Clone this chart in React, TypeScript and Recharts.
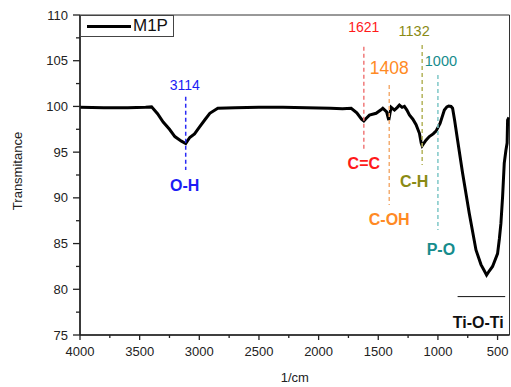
import { Legend, Line, LineChart, ReferenceArea, ReferenceDot, ReferenceLine, XAxis, YAxis } from 'recharts';

// FTIR spectrum of M1P (wavenumber in 1/cm, transmittance in %)
const wavenumbers = [
  4000, 3800, 3600, 3450, 3400, 3350, 3303, 3250, 3205, 3150, 3114, 3080, 3040, 2996, 2950, 2912, 2845,
  2700, 2500, 2300, 2100, 1900, 1800, 1727, 1680, 1640, 1621, 1600, 1574, 1518, 1480, 1462, 1430, 1412,
  1400, 1392, 1364, 1340, 1323, 1300, 1281, 1260, 1239, 1210, 1183, 1155, 1140, 1132, 1100, 1072, 1040,
  1016, 982, 946, 925, 910, 890, 877, 860, 835, 793, 737, 681, 639, 610, 592, 570, 542, 500, 485, 472,
  458, 444, 430, 420, 416, 405,
];
const transmittance = [
  99.9, 99.85, 99.85, 99.9, 99.95, 99.2, 98.3, 97.5, 96.7, 96.2, 95.95, 96.6, 97.0, 97.8, 98.6, 99.25, 99.8,
  99.85, 99.9, 99.9, 99.85, 99.8, 99.75, 99.8, 99.3, 98.6, 98.4, 98.7, 99.05, 99.25, 99.6, 99.8, 99.4, 98.5,
  99.4, 99.9, 99.6, 99.9, 100.15, 99.9, 100.0, 99.6, 99.06, 98.6, 98.0, 97.06, 96.0, 95.7, 96.3, 96.7, 97.0,
  97.3, 98.15, 99.6, 99.95, 100.05, 100.0, 99.8, 98.5, 96.3, 92.7, 88.3, 84.3, 82.7, 82.0, 81.55, 82.0, 82.5,
  83.9, 85.5, 87.2, 90.1, 93.8, 95.2, 96.0, 98.5, 98.8,
];
const spectrum = wavenumbers.map((w, i) => ({ w, t: transmittance[i] }));

const xTicks = [4000, 3750, 3500, 3250, 3000, 2750, 2500, 2250, 2000, 1750, 1500, 1250, 1000, 750, 500];
const yTicks = [75, 77.5, 80, 82.5, 85, 87.5, 90, 92.5, 95, 97.5, 100, 102.5, 105, 107.5, 110];

// assigned bands: position, group name, dashed marker span and label heights (in %T)
const bandPositions = [3114, 1621, 1408, 1132, 1000];
const bandNames = ['O-H', 'C=C', 'C-OH', 'C-H', 'P-O'];
const markerTop = [101.07, 106.53, 102.34, 106.72, 103.44];
const markerBottom = [93.05, 95.05, 89.22, 93.59, 86.48];
const numberLevel = [102.34, 108.72, 104.17, 108.25, 104.97];
const nameLevel = [91.3, 93.78, 87.66, 91.84, 84.3];

const tiBand = { label: 'Ti-O-Ti', from: 835, to: 436, level: 79.2, textAt: 662, textLevel: 76.4 };

const bandStyles = [
  { text: '#1c1cf5', dash: '#2a2af5', numSize: 14, dx: -1 },
  { text: '#ff1a1a', dash: '#f07a7a', numSize: 14, dx: 0 },
  { text: '#ff8a24', dash: '#f4ae72', numSize: 17.5, dx: 0 },
  { text: '#8a8a14', dash: '#b4b45c', numSize: 14.5, dx: -8 },
  { text: '#168c8c', dash: '#7fc8c8', numSize: 14.5, dx: 3 },
];

const W = 511;
const H = 387;
const LEFT = 80;
const TOP = 15;
const RIGHT = 1.5;
const BOTTOM = 335;
const FONT = '"Liberation Sans", Arial, sans-serif';

function XTick({ x, y, payload }: any) {
  const major = payload.value % 500 === 0;
  return (
    <g>
      <line x1={x} x2={x} y1={y} y2={y + (major ? 5 : 3)} stroke="#222" strokeWidth={1.3} />
      {major && (
        <text x={x} y={y + 21} textAnchor="middle" fontSize={13} fill="#222">
          {payload.value}
        </text>
      )}
    </g>
  );
}

function YTick({ x, y, payload }: any) {
  const major = payload.value % 5 === 0;
  return (
    <g>
      <line x1={x - (major ? 7 : 4)} x2={x} y1={y} y2={y} stroke="#222" strokeWidth={1.3} />
      {major && (
        <text x={x - 12} y={y} textAnchor="end" dominantBaseline="central" fontSize={13} fill="#222">
          {payload.value}
        </text>
      )}
    </g>
  );
}

// axis titles sit at fixed spots; props handed in by the axis are ignored
function XTitle() {
  const cx = (LEFT + W - RIGHT) / 2;
  return (
    <text x={cx} y={377} textAnchor="middle" dominantBaseline="central" fontSize={13} fill="#222">
      1/cm
    </text>
  );
}

function YTitle() {
  return (
    <text
      x={17}
      y={171}
      transform="rotate(-90 17 171)"
      textAnchor="middle"
      dominantBaseline="central"
      fontSize={13}
      fill="#222"
    >
      Transmitance
    </text>
  );
}

function LegendBox() {
  return (
    <div
      style={{
        width: 94,
        height: 22,
        boxSizing: 'border-box',
        border: '1px solid #444',
        background: '#fff',
        position: 'relative',
      }}
    >
      <svg width={50} height={20} style={{ position: 'absolute', left: 5, top: 0 }}>
        <line x1={1} x2={45} y1={10.5} y2={10.5} stroke="#000" strokeWidth={3} />
      </svg>
      <span style={{ position: 'absolute', left: 52, top: 0, fontSize: 17, lineHeight: '20px', color: '#111' }}>
        M1P
      </span>
    </div>
  );
}

export default function App() {
  return (
    <div style={{ position: 'absolute', left: 0, top: 0, width: W, height: H, background: '#fff', fontFamily: FONT }}>
      <LineChart width={W} height={H} data={spectrum} margin={{ top: TOP, right: RIGHT, bottom: 0, left: 0 }}>
        <ReferenceArea x1={400} x2={4000} y1={75} y2={110} fill="none" stroke="#333" strokeWidth={1} ifOverflow="visible" />
        <XAxis
          dataKey="w"
          type="number"
          domain={[400, 4000]}
          reversed
          allowDataOverflow
          ticks={xTicks}
          interval={0}
          height={H - BOTTOM}
          tickLine={false}
          tickSize={0}
          tickMargin={0}
          tick={(p: any) => <XTick {...p} />}
          axisLine={{ stroke: '#222', strokeWidth: 1.6 }}
          label={<XTitle />}
        />
        <YAxis
          type="number"
          domain={[75, 110]}
          allowDataOverflow
          ticks={yTicks}
          interval={0}
          width={LEFT}
          tickLine={false}
          tickSize={0}
          tickMargin={0}
          tick={(p: any) => <YTick {...p} />}
          axisLine={{ stroke: '#222', strokeWidth: 1.6 }}
          label={<YTitle />}
        />
        <Legend
          layout="horizontal"
          verticalAlign="middle"
          align="center"
          wrapperStyle={{ top: TOP, left: LEFT, width: 'auto', height: 'auto' }}
          content={() => <LegendBox />}
        />
        <Line
          dataKey="t"
          type="linear"
          stroke="#000"
          strokeWidth={3}
          dot={false}
          isAnimationActive={false}
          legendType="line"
          name="M1P"
        />
        {bandPositions.map((w, i) => (
          <ReferenceLine
            key={`m-${w}`}
            segment={[
              { x: w, y: markerTop[i] },
              { x: w, y: markerBottom[i] },
            ]}
            stroke={bandStyles[i].dash}
            strokeWidth={1.5}
            strokeDasharray="4 3"
          />
        ))}
        {bandPositions.map((w, i) => (
          <ReferenceDot
            key={`n-${w}`}
            x={w}
            y={numberLevel[i]}
            r={0}
            ifOverflow="visible"
            shape={(p: any) => (
              <text
                x={p.cx + bandStyles[i].dx}
                y={p.cy}
                textAnchor="middle"
                dominantBaseline="central"
                fontSize={bandStyles[i].numSize}
                fill={bandStyles[i].text}
              >
                {w}
              </text>
            )}
          />
        ))}
        {bandPositions.map((w, i) => (
          <ReferenceDot
            key={`g-${w}`}
            x={w}
            y={nameLevel[i]}
            r={0}
            ifOverflow="visible"
            shape={(p: any) => (
              <text
                x={p.cx + bandStyles[i].dx}
                y={p.cy}
                textAnchor="middle"
                dominantBaseline="central"
                fontSize={16}
                fontWeight="bold"
                fill={bandStyles[i].text}
              >
                {bandNames[i]}
              </text>
            )}
          />
        ))}
        <ReferenceLine
          segment={[
            { x: tiBand.from, y: tiBand.level },
            { x: tiBand.to, y: tiBand.level },
          ]}
          stroke="#111"
          strokeWidth={1}
        />
        <ReferenceDot
          x={tiBand.textAt}
          y={tiBand.textLevel}
          r={0}
          ifOverflow="visible"
          shape={(p: any) => (
            <text x={p.cx} y={p.cy} textAnchor="middle" dominantBaseline="central" fontSize={16} fontWeight="bold" fill="#111">
              {tiBand.label}
            </text>
          )}
        />
      </LineChart>
    </div>
  );
}
